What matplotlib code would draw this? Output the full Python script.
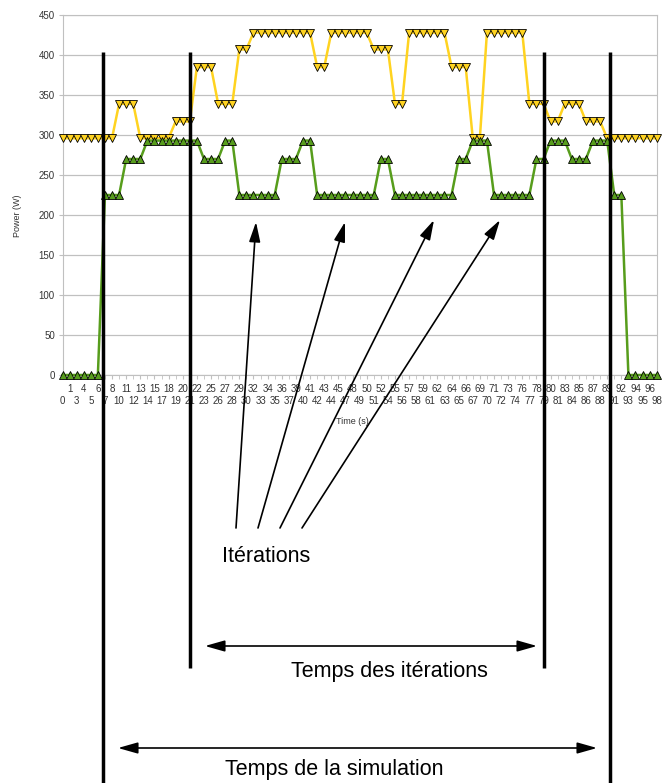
import matplotlib
matplotlib.use('Agg')
import matplotlib.pyplot as plt
import numpy as np

matplotlib.rc('font', family=['Liberation Sans', 'DejaVu Sans'], size=7)

# time labels (s), one per sample
times = ['0', '1', '3', '4', '5', '6', '7', '8', '10', '11', '12', '13', '14', '15',
         '17', '18', '19', '20', '21', '22', '23', '25', '26', '27', '28', '29', '30',
         '32', '33', '34', '35', '36', '37', '39', '40', '41', '42', '43', '44', '45',
         '47', '48', '49', '50', '51', '52', '54', '55', '56', '57', '58', '59', '61',
         '62', '63', '64', '65', '66', '67', '69', '70', '71', '72', '73', '74', '76',
         '77', '78', '79', '80', '81', '83', '84', '85', '86', '87', '88', '89', '91',
         '92', '93', '94', '95', '96', '98']

# yellow series (down triangles)
power_yellow = [296, 296, 296, 296, 296, 296, 296, 296, 339, 339, 339, 296, 296, 296,
                296, 296, 317, 317, 317, 385, 385, 385, 339, 339, 339, 407, 407, 428,
                428, 428, 428, 428, 428, 428, 428, 428, 385, 385, 428, 428, 428, 428,
                428, 428, 407, 407, 407, 339, 339, 428, 428, 428, 428, 428, 428, 385,
                385, 385, 296, 296, 428, 428, 428, 428, 428, 428, 339, 339, 339, 317,
                317, 339, 339, 339, 317, 317, 317, 296, 296, 296, 296, 296, 296, 296,
                296]

# green series (up triangles)
power_green = [0, 0, 0, 0, 0, 0, 225, 225, 225, 270, 270, 270, 293, 293, 293, 293, 293,
               293, 293, 293, 270, 270, 270, 293, 293, 225, 225, 225, 225, 225, 225, 270,
               270, 270, 293, 293, 225, 225, 225, 225, 225, 225, 225, 225, 225, 270, 270,
               225, 225, 225, 225, 225, 225, 225, 225, 225, 270, 270, 293, 293, 293, 225,
               225, 225, 225, 225, 225, 270, 270, 293, 293, 293, 270, 270, 270, 293, 293,
               293, 225, 225, 0, 0, 0, 0, 0]

yticks = [0, 50, 100, 150, 200, 250, 300, 350, 400, 450]

W, H = 662, 783
fig = plt.figure(figsize=(W / 100, H / 100), dpi=100)
ax = fig.add_axes([62.5 / W, 1 - 375 / H, (656.7 - 62.5) / W, 360 / H])

x = np.arange(len(times))
ax.plot(x, power_yellow, color='#FFD320', lw=1.8, marker='v', ms=6,
        mfc='#FFD320', mec='black', mew=0.6, clip_on=False, zorder=3)
ax.plot(x, power_green, color='#579D1C', lw=1.8, marker='^', ms=6,
        mfc='#579D1C', mec='black', mew=0.6, clip_on=False, zorder=4)

ax.set_xlim(0, len(times) - 1)
ax.set_ylim(0, 450)
ax.set_yticks(yticks)
# staggered labels: odd samples on the first row, even samples on the second
ax.set_xticks(x[1::2])
ax.set_xticklabels(times[1::2])
ax.set_xticks(x[0::2], minor=True)
ax.set_xticklabels(times[0::2], minor=True)
ax.grid(axis='y', color='#c0c0c0', lw=0.9)
ax.set_axisbelow(True)
for s in ax.spines.values():
    s.set_color('#c0c0c0')
ax.tick_params(axis='both', which='both', length=3, color='#c0c0c0', labelsize=7,
               labelcolor='#333333', pad=2.5)
ax.tick_params(axis='x', which='major', pad=3.2)
ax.tick_params(axis='x', which='minor', pad=11.8)

fig.text(18 / W, 1 - 216 / H, 'Power (W)', rotation=90, ha='center', va='center',
         fontsize=6.5, color='#333333')
fig.text(352 / W, 1 - 421 / H, 'Time (s)', ha='center', va='center',
         fontsize=6.5, color='#333333')

# annotation layer in pixel coordinates
ov = fig.add_axes([0, 0, 1, 1], zorder=10)
ov.set_xlim(0, W)
ov.set_ylim(H, 0)
ov.axis('off')
ov.patch.set_alpha(0)

for xv, y1 in [(103, 783), (190, 668), (544, 668), (610, 783)]:
    ov.plot([xv, xv], [52, y1], color='black', lw=2.5, solid_capstyle='butt')

head = '-|>,head_length=0.6,head_width=0.17'
for x0, x1, y1 in [(236, 256, 222), (258, 345, 222), (280, 434, 220), (302, 500, 220)]:
    ov.annotate('', xy=(x1, y1), xytext=(x0, 528),
                arrowprops=dict(arrowstyle=head, lw=1.2, color='black',
                                shrinkA=0, shrinkB=0, mutation_scale=20))

dhead = '<|-|>,head_length=0.6,head_width=0.17'
ov.annotate('', xy=(537, 646), xytext=(205, 646),
            arrowprops=dict(arrowstyle=dhead, lw=1.2, color='black',
                            shrinkA=0, shrinkB=0, mutation_scale=20))
ov.annotate('', xy=(597, 748), xytext=(118, 748),
            arrowprops=dict(arrowstyle=dhead, lw=1.2, color='black',
                            shrinkA=0, shrinkB=0, mutation_scale=20))

ov.text(222, 557, 'Itérations', ha='left', va='center', fontsize=15.5)
ov.text(389, 671, 'Temps des itérations', ha='center', va='center', fontsize=15.5)
ov.text(334, 770, 'Temps de la simulation', ha='center', va='center', fontsize=15.5)

fig.savefig('out.png', dpi=100)
